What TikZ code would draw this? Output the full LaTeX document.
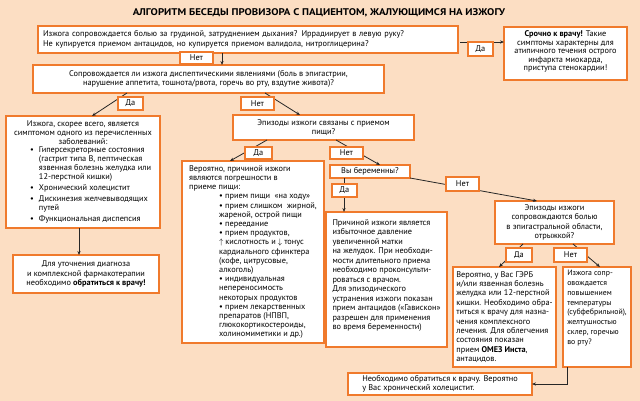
\documentclass[tikz,border=0pt]{standalone}
\usepackage{fontspec}
\setmainfont{PT Sans}
\newfontfamily\titlefont{PT Sans}[FakeStretch=1.12]
\usetikzlibrary{arrows.meta,calc}
\definecolor{bgc}{RGB}{252,222,195}
\definecolor{orn}{RGB}{240,122,44}
\setlength{\parindent}{0pt}
\newcommand\upa{\makebox[4pt]{$\uparrow$}}
\newcommand\dna{\makebox[4pt]{$\downarrow$}}
\begin{document}
\begin{tikzpicture}[x=1pt,y=-1pt,
  font=\fontsize{8.3}{9.2}\selectfont,
  box/.style={draw=orn, line width=1.4pt, fill=white, anchor=north west, inner sep=0pt, outer sep=0pt},
  lbl/.style={draw=orn, line width=1.4pt, fill=white, anchor=north west, inner sep=0pt, outer sep=0pt, align=center},
  arr/.style={-{Stealth[length=4pt,width=3.2pt]}, line width=0.8pt, black!85}]
\fill[bgc] (0,0) rectangle (640,401);
\useasboundingbox (0,0) rectangle (640,401);

\node (title) at (319,12.5) {\titlefont\bfseries\fontsize{9.7}{11}\selectfont АЛГОРИТМ БЕСЕДЫ ПРОВИЗОРА С ПАЦИЕНТОМ, ЖАЛУЮЩИМСЯ НА ИЗЖОГУ};

\node[box, minimum width=420pt, minimum height=27pt, text width=410pt, align=left,
      font=\fontsize{8.3}{9.5}\selectfont] (b1) at (38,26)
 {Изжога сопровождается болью за грудиной, затруднением дыхания? Иррадиирует в левую руку?\\
  Не купируется приемом антацидов, но купируется приемом валидола, нитроглицерина?};

\node[box, minimum width=123pt, minimum height=53pt, align=center,
      font=\fontsize{8.3}{8.6}\selectfont] (b2) at (504,27)
 {\textbf{Срочно к врачу!} Такие\\ симптомы характерны для\\ атипичного течения острого\\ инфаркта миокарда,\\ приступа стенокардии!\\[-3pt]\mbox{}};

\node[box, minimum width=351pt, minimum height=28pt, align=center,
      font=\fontsize{8.3}{9}\selectfont] (b3) at (33,65)
 {Сопровождается ли изжога диспептическими явлениями (боль в эпигастрии,\\
  нарушение аппетита, тошнота/рвота, горечь во рту, вздутие живота)?};

\node[box, minimum width=154pt, minimum height=112pt, align=left,
      font=\fontsize{8.3}{8.7}\selectfont] (b4) at (6,116)
 {\makebox[144pt][c]{Изжога, скорее всего, является}\\
  \makebox[144pt][c]{симптомом одного из перечисленных}\\
  \makebox[144pt][c]{заболеваний:}\\
  \hspace*{19pt}\makebox[9pt][l]{•}Гиперсекреторные состояния\\
  \hspace*{28pt}(гастрит типа В, пептическая\\
  \hspace*{28pt}язвенная болезнь желудка или\\
  \hspace*{28pt}12-перстной кишки)\\[2.5pt]
  \hspace*{19pt}\makebox[9pt][l]{•}Хронический холецистит\\[2.5pt]
  \hspace*{19pt}\makebox[9pt][l]{•}Дискинезия желчевыводящих\\
  \hspace*{28pt}путей\\[2.5pt]
  \hspace*{19pt}\makebox[9pt][l]{•}Функциональная диспепсия};

\node[box, minimum width=146pt, minimum height=38pt, align=center,
      font=\fontsize{8.3}{9.5}\selectfont] (b6) at (13,255)
 {Для уточнения диагноза\\ и комплексной фармакотерапии\\ необходимо \textbf{обратиться к врачу!}};

\node[box, minimum width=181pt, minimum height=25pt, align=center,
      font=\fontsize{8.3}{9}\selectfont] (b5) at (233,115)
 {Эпизоды изжоги связаны с приемом\\ пищи?};

\node[box, minimum width=142pt, minimum height=182pt, align=left] (b7) at (182,161)
 {Вероятно, причиной изжоги\\ являются погрешности в\\ приеме пищи:\\
  \hspace*{30pt}• прием пищи \ «на ходу»\\
  \hspace*{30pt}• прием слишком \ жирной,\\
  \hspace*{30pt}жареной, острой пищи\\
  \hspace*{30pt}• переедание\\
  \hspace*{30pt}• прием продуктов,\\
  \hspace*{30pt}\upa\ кислотность и \dna\ тонус\\
  \hspace*{30pt}кардиального сфинктера\\
  \hspace*{30pt}(кофе, цитрусовые,\\
  \hspace*{30pt}алкоголь)\\
  \hspace*{30pt}• индивидуальная\\
  \hspace*{30pt}непереносимость\\
  \hspace*{30pt}некоторых продуктов\\
  \hspace*{30pt}• прием лекарственных\\
  \hspace*{30pt}препаратов (НПВП,\\
  \hspace*{30pt}глюкокортикостероиды,\\
  \hspace*{30pt}холиномиметики и др.)};

\node[box, minimum width=80pt, minimum height=13pt, align=center] (b8) at (330,165)
 {Вы беременны?};

\node[box, minimum width=121pt, minimum height=135pt, align=left,
      font=\fontsize{8.3}{9.5}\selectfont] (b9) at (326,212)
 {Причиной изжоги является\\ избыточное давление\\ увеличенной матки\\ на желудок. При необходи-\\
  мости длительного приема\\ необходимо проконсульти-\\ роваться с врачом.\\ Для эпизодического\\
  устранения изжоги показан\\ прием антацидов («Гавискон»\\ разрешен для применения\\
  во время беременности)\\ \mbox{}};

\node[box, minimum width=119pt, minimum height=43pt, align=center,
      font=\fontsize{8.3}{9.3}\selectfont] (b10) at (495,201)
 {Эпизоды изжоги\\ сопровождаются болью\\ в эпигастральной области,\\ отрыжкой?};

\node[box, minimum width=103pt, minimum height=100pt, align=left,
      font=\fontsize{8.3}{9.4}\selectfont] (b11) at (453,267)
 {Вероятно, у Вас ГЭРБ\\ и/или язвенная болезнь\\ желудка или 12-перстной\\ кишки. Необходимо обра-\\
  титься к врачу для назна-\\ чения комплексного\\ лечения. Для облегчения\\ состояния показан\\
  прием \textbf{ОМЕЗ Инста},\\ антацидов.};

\node[box, minimum width=68pt, minimum height=100pt, align=left,
      font=\fontsize{7.8}{9.8}\selectfont] (b12) at (563,267)
 {Изжога сопр-\\ овождается\\ повышением\\ температуры\\ (субфебрильной),\\ желтушностью\\ склер, горечью\\ во рту?\\ \mbox{}\\ \mbox{}};

\node[box, minimum width=184pt, minimum height=22pt, align=left,
      font=\fontsize{8.3}{9}\selectfont] (b13) at (348,373)
 {Необходимо обратиться к врачу. Вероятно\\ у Вас хронический холецистит.};

% connectors
\draw[arr] ($(b1.north east)+(2,16)$) -- ($(b2.north west)+(0,15)$);
\draw[arr] ($(b1.south west)+(184,0)$) -- ($(b3.north west)+(189,0)$);
\draw[arr] ($(b3.south west)+(94,0)$) -- ($(b4.north west)+(86,0)$);
\draw[arr] ($(b3.south west)+(232,0)$) -- ($(b5.north west)+(67,0)$);
\draw[arr] ($(b4.south west)+(73,0)$) -- ($(b6.north west)+(66,0)$);
\draw[arr] ($(b5.south west)+(34,0)$) -- ($(b7.north west)+(48,0)$);
\draw[arr] ($(b5.south west)+(103,0)$) -- ($(b8.north west)+(50,0)$);
\draw[arr] ($(b8.south west)+(14,0)$) -- ($(b9.north west)+(18,0)$);
\draw[arr] (b8.south east) -- ($(b10.north west)+(42,0)$);
\draw[arr] ($(b10.south west)+(28,0)$) -- ($(b11.north west)+(46,0)$);
\draw[arr] ($(b10.south west)+(78,0)$) -- ($(b12.north west)+(37,0)$);
\draw[arr] ($(b12.south west)+(4,0)$) |- (b13.east);

% labels
\node[lbl, minimum width=33pt, minimum height=12pt] (ln1) at (180,52) {Нет};
\node[lbl, minimum width=25pt, minimum height=14pt] (ld1) at (468,42) {Да};
\node[lbl, minimum width=25pt, minimum height=13pt] (ld2) at (118,97) {Да};
\node[lbl, minimum width=33pt, minimum height=13pt] (ln2) at (241,97) {Нет};
\node[lbl, minimum width=27pt, minimum height=12pt] (ld3) at (245,147) {Да};
\node[lbl, minimum width=33pt, minimum height=12pt] (ln3) at (330,147) {Нет};
\node[lbl, minimum width=25pt, minimum height=13pt] (ld4) at (332,184) {Да};
\node[lbl, minimum width=33pt, minimum height=14pt] (ln4) at (446,177) {Нет};
\node[lbl, minimum width=26pt, minimum height=14pt] (ld5) at (506,248) {Да};
\node[lbl, minimum width=33pt, minimum height=14pt] (ln5) at (554,248) {Нет};
\end{tikzpicture}
\end{document}
